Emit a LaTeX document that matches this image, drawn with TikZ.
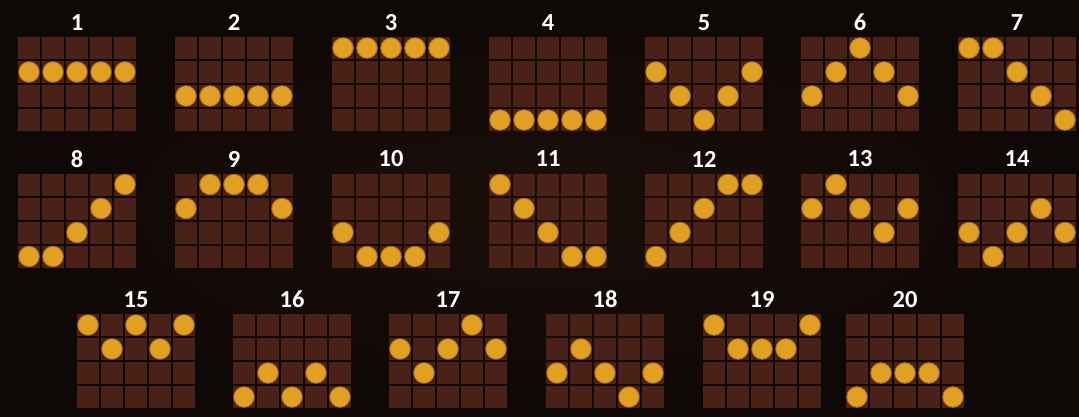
\documentclass[tikz,border=0pt]{standalone}
\usepackage{fontspec}
\setmainfont{Carlito}
\usepackage{tikz}

\definecolor{bgdark}{HTML}{0E0806}
\definecolor{bgmid}{HTML}{1A0E0A}
\definecolor{cellbrown}{HTML}{4A2117}
\definecolor{coingold}{HTML}{E2A023}
\definecolor{coinedge}{HTML}{A86B14}

% #1 left, #2 top, #3 number, #4 coin rows of the five reels
\newcommand{\payline}[4]{%
    \foreach \c in {0,...,4}
        \foreach \r in {0,...,3}
            \fill[cell] (#1+\c*24+1, #2+\r*24+1) rectangle ++(22,22);
    \node[num] (line#3) at (#1+60, #2-13.5) {#3};
    \foreach \r [count=\c from 0] in {#4}
        \filldraw[coin] (#1+\c*24+12, #2+\r*24+12) circle (10.3);
}

\begin{document}
\begin{tikzpicture}[x=1pt, y=-1pt,
        cell/.style = {fill=cellbrown},
        coin/.style = {fill=coingold, draw=coinedge, line width=0.8pt},
        num/.style = {text=white, font=\fontsize{24.5}{24.5}\selectfont\bfseries, inner sep=0pt}]
    \useasboundingbox (0,0) rectangle (1079,416);
    \fill[bgdark] (0,0) rectangle (1079,416);
    \shade[inner color=bgmid, outer color=bgdark] (0,0) rectangle (1079,416);

    % first row
    \payline{17}{36}{1}{1,1,1,1,1}
    \payline{174}{36}{2}{2,2,2,2,2}
    \payline{331}{36}{3}{0,0,0,0,0}
    \payline{488}{36}{4}{3,3,3,3,3}
    \payline{644}{36}{5}{1,2,3,2,1}
    \payline{800}{36}{6}{2,1,0,1,2}
    \payline{957}{36}{7}{0,0,1,2,3}

    % second row
    \payline{17}{172.5}{8}{3,3,2,1,0}
    \payline{174}{172.5}{9}{1,0,0,0,1}
    \payline{331}{172.5}{10}{2,3,3,3,2}
    \payline{488}{172.5}{11}{0,1,2,3,3}
    \payline{644}{172.5}{12}{3,2,1,0,0}
    \payline{800}{172.5}{13}{1,0,1,2,1}
    \payline{957}{172.5}{14}{2,3,2,1,2}

    % third row
    \payline{76}{313}{15}{0,1,0,1,0}
    \payline{232}{313}{16}{3,2,3,2,3}
    \payline{388}{313}{17}{1,2,1,0,1}
    \payline{545}{313}{18}{2,1,2,3,2}
    \payline{702}{313}{19}{0,1,1,1,0}
    \payline{845}{313}{20}{3,2,2,2,3}
\end{tikzpicture}
\end{document}
